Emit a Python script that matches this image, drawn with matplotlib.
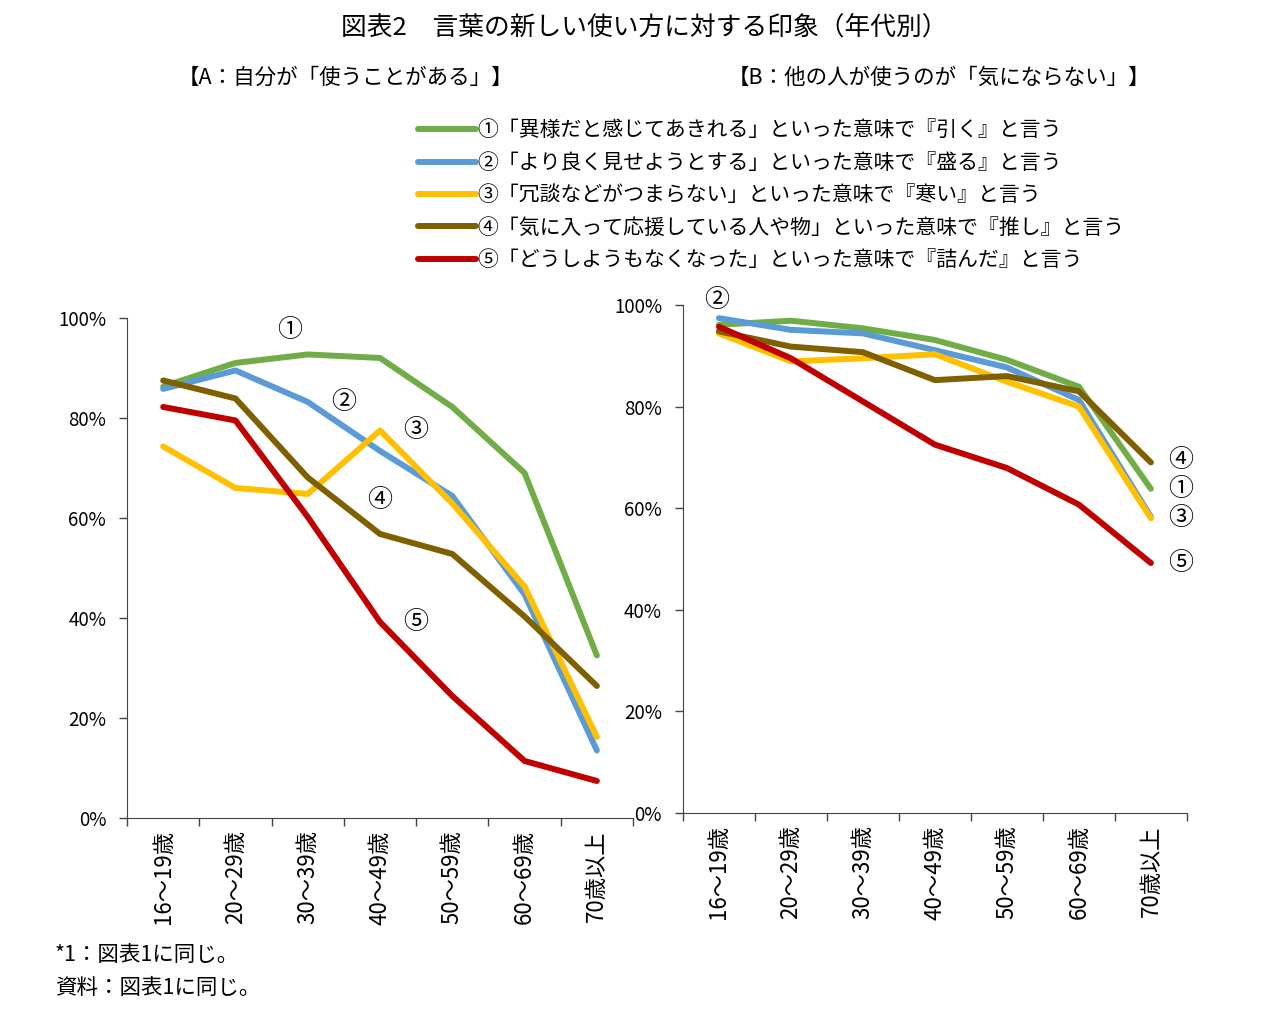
import matplotlib
matplotlib.use("Agg")
import matplotlib.pyplot as plt

plt.rcParams['font.family'] = ['Noto Sans CJK JP', 'DejaVu Sans']

# ---------------------------------------------------------------
# data (percent)
# ---------------------------------------------------------------
age_groups = ["16～19歳", "20～29歳", "30～39歳", "40～49歳",
              "50～59歳", "60～69歳", "70歳以上"]

series_labels = [
    "①「異様だと感じてあきれる」といった意味で『引く』と言う",
    "②「より良く見せようとする」といった意味で『盛る』と言う",
    "③「冗談などがつまらない」といった意味で『寒い』と言う",
    "④「気に入って応援している人や物」といった意味で『推し』と言う",
    "⑤「どうしようもなくなった」といった意味で『詰んだ』と言う",
]
series_colors = ["#70AD47", "#5B9BD5", "#FFC000", "#7F6000", "#C00000"]

# A: 自分が「使うことがある」
use_hiku = [86.3, 91.0, 92.7, 92.0, 82.2, 69.0, 32.5]
use_moru = [85.8, 89.5, 83.2, 73.4, 64.4, 44.7, 13.5]
use_samui = [74.3, 66.0, 64.8, 77.5, 62.9, 46.3, 16.2]
use_oshi = [87.5, 83.9, 68.1, 56.8, 52.8, 40.3, 26.4]
use_tsunda = [82.2, 79.5, 60.2, 39.2, 24.4, 11.4, 7.4]

# B: 他の人が使うのが「気にならない」
ok_hiku = [96.1, 96.9, 95.4, 93.1, 89.2, 83.9, 63.8]
ok_moru = [97.4, 95.1, 94.4, 91.1, 87.7, 81.3, 58.3]
ok_samui = [94.4, 88.9, 89.5, 90.3, 84.9, 80.0, 58.0]
ok_oshi = [94.8, 91.8, 90.7, 85.2, 86.0, 83.0, 69.0]
ok_tsunda = [95.7, 89.5, 81.0, 72.5, 67.9, 60.7, 49.2]

# circled-number callouts: (text, x in category units, y in %)
notes_a = [("①", 1.75, 97.6), ("②", 2.49, 83.2), ("③", 3.49, 77.6),
           ("④", 3.0, 63.6), ("⑤", 3.49, 39.2)]
notes_b = [("②", -0.03, 101.0), ("④", 6.42, 69.4), ("①", 6.42, 63.8),
           ("③", 6.42, 58.0), ("⑤", 6.42, 49.2)]

yticks = [0, 20, 40, 60, 80, 100]


def draw_panel(ax, data, notes):
    x = list(range(len(age_groups)))
    lines = []
    for vals, color in zip(data, series_colors):
        ln, = ax.plot(x, vals, color=color, linewidth=4.3,
                      solid_joinstyle='round', solid_capstyle='round')
        lines.append(ln)

    ax.set_xlim(-0.5, len(age_groups) - 0.5)
    ax.set_ylim(0, 100)
    ax.set_yticks(yticks)
    ax.set_yticklabels([f"{v}%" for v in yticks], fontsize=13.5)

    # Excel-style: tick marks between categories, labels at the centre
    ax.set_xticks([i - 0.5 for i in range(len(age_groups) + 1)])
    ax.set_xticklabels([])
    ax.set_xticks(x, age_groups, minor=True, rotation=90, fontsize=16)
    ax.tick_params(axis='x', which='minor', length=0, pad=9)
    ax.tick_params(axis='y', which='major', pad=9)
    ax.tick_params(axis='both', which='major', length=6, width=1,
                   direction='out', color='#444444')

    for side in ('top', 'right'):
        ax.spines[side].set_visible(False)
    for side in ('left', 'bottom'):
        ax.spines[side].set_color('#444444')

    for txt, nx, ny in notes:
        ax.text(nx, ny, txt, fontsize=18, ha='center', va='center')
    return lines


fig = plt.figure(figsize=(12.64, 10.24), dpi=100)

ax_a = fig.add_axes([0.1005, 0.2012, 0.4003, 0.4883])
ax_b = fig.add_axes([0.5403, 0.2061, 0.3987, 0.4961])

handles = draw_panel(ax_a, [use_hiku, use_moru, use_samui, use_oshi, use_tsunda], notes_a)
draw_panel(ax_b, [ok_hiku, ok_moru, ok_samui, ok_oshi, ok_tsunda], notes_b)

fig.text(644 / 1264, 1 - 28 / 1024, "図表2　言葉の新しい使い方に対する印象（年代別）",
         ha='center', va='center', fontsize=18.5)
fig.text(345 / 1264, 1 - 78 / 1024, "【A：自分が「使うことがある」】",
         ha='center', va='center', fontsize=15.5)
fig.text(939 / 1264, 1 - 78 / 1024, "【B：他の人が使うのが「気にならない」】",
         ha='center', va='center', fontsize=15.5)

fig.legend(handles, series_labels, loc='upper left',
           bbox_to_anchor=(408 / 1264, 1 - 109 / 1024),
           frameon=False, fontsize=15, handlelength=2.75,
           handletextpad=0.1, labelspacing=0.5, borderpad=0)

fig.text(55 / 1264, 1 - 955 / 1024, "*1：図表1に同じ。",
         ha='left', va='center', fontsize=15.5)
fig.text(55 / 1264, 1 - 988 / 1024, "資料：図表1に同じ。",
         ha='left', va='center', fontsize=15.5)

fig.savefig("out.png", dpi=100)
